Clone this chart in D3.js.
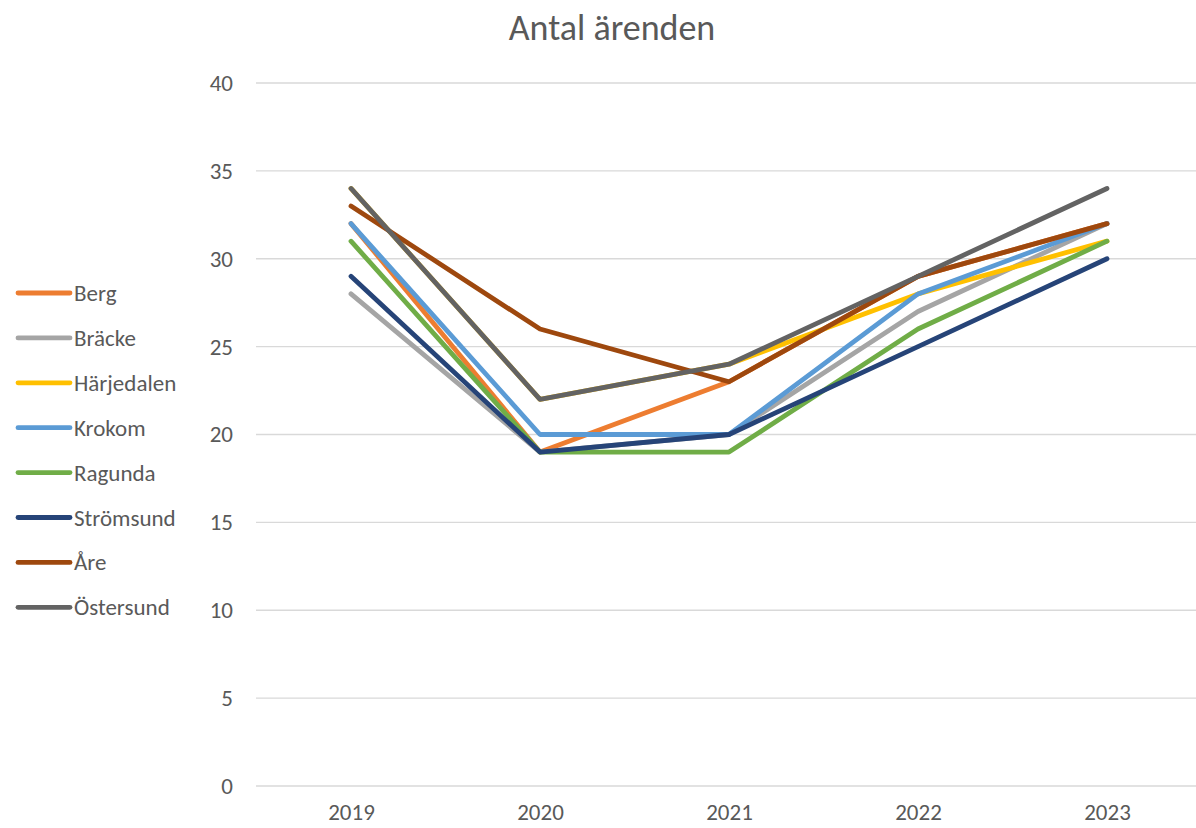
<!DOCTYPE html>
<html>
<head>
<meta charset="utf-8">
<script src="https://cdn.jsdelivr.net/npm/d3@7"></script>
<style>
  body { margin: 0; background: #fff; }
  text { font-family: Carlito, Lato, "Liberation Sans", sans-serif; fill: #595959; }
</style>
</head>
<body>
<svg id="chart" width="1196" height="828"></svg>
<script>
var years = ["2019", "2020", "2021", "2022", "2023"];
var names = ["Berg", "Bräcke", "Härjedalen", "Krokom", "Ragunda", "Strömsund", "Åre", "Östersund"];
var colors = ["#ED7D31", "#A5A5A5", "#FFC000", "#5B9BD5", "#70AD47", "#264478", "#9E480E", "#636363"];
var berg       = [32, 19, 23, 29, 32];
var bracke     = [28, 19, 20, 27, 32];
var harjedalen = [34, 22, 24, 28, 31];
var krokom     = [32, 20, 20, 28, 32];
var ragunda    = [31, 19, 19, 26, 31];
var stromsund  = [29, 19, 20, 25, 30];
var are        = [33, 26, 23, 29, 32];
var ostersund  = [34, 22, 24, 29, 34];
var yTicks = [0, 5, 10, 15, 20, 25, 30, 35, 40];

var series = [berg, bracke, harjedalen, krokom, ragunda, stromsund, are, ostersund];

var svg = d3.select("#chart"),
    width = +svg.attr("width"),
    height = +svg.attr("height");

var x = d3.scalePoint().domain(years).range([256.5, 1201.5]).padding(0.5);
var y = d3.scaleLinear().domain([0, 40]).range([786, 83]);

// gridlines
svg.append("g").selectAll("line")
    .data(yTicks)
    .enter().append("line")
    .attr("x1", 256).attr("x2", width)
    .attr("y1", function(d) { return y(d); })
    .attr("y2", function(d) { return y(d); })
    .attr("stroke", "#d9d9d9")
    .attr("stroke-width", 1.3);

// y axis labels
var yAxis = d3.axisLeft(y).tickValues(yTicks).tickSize(0).tickPadding(0);
var yg = svg.append("g").attr("transform", "translate(233,0)").call(yAxis);
yg.select(".domain").remove();
yg.selectAll("text").style("font-size", "23px").attr("fill", "#595959");

// x axis labels
var xAxis = d3.axisBottom(x).tickSize(0).tickPadding(0);
var xg = svg.append("g").attr("transform", "translate(0,804)").call(xAxis);
xg.select(".domain").remove();
xg.selectAll("text").style("font-size", "23px").attr("fill", "#595959");

var line = d3.line()
    .x(function(d, i) { return x(years[i]); })
    .y(function(d) { return y(d); });

for (var n = 0; n < series.length; n++) {
    svg.append("path")
        .attr("d", line(series[n]))
        .attr("fill", "none")
        .attr("stroke", colors[n])
        .attr("stroke-width", 4.8)
        .attr("stroke-linejoin", "round")
        .attr("stroke-linecap", "round");
}

// title
svg.append("text")
    .text("Antal ärenden")
    .attr("x", 612)
    .attr("y", 40)
    .attr("text-anchor", "middle")
    .style("font-size", "36px");

// legend
var legend = svg.append("g");
names.forEach(function(name, i) {
    var ly = 293 + i * 44.9;
    legend.append("line")
        .attr("x1", 18).attr("x2", 70)
        .attr("y1", ly).attr("y2", ly)
        .attr("stroke", colors[i])
        .attr("stroke-width", 4.8)
        .attr("stroke-linecap", "round");
    legend.append("text")
        .text(name)
        .attr("x", 74)
        .attr("y", ly)
        .attr("dy", "0.35em")
        .style("font-size", "23px");
});
</script>
</body>
</html>
